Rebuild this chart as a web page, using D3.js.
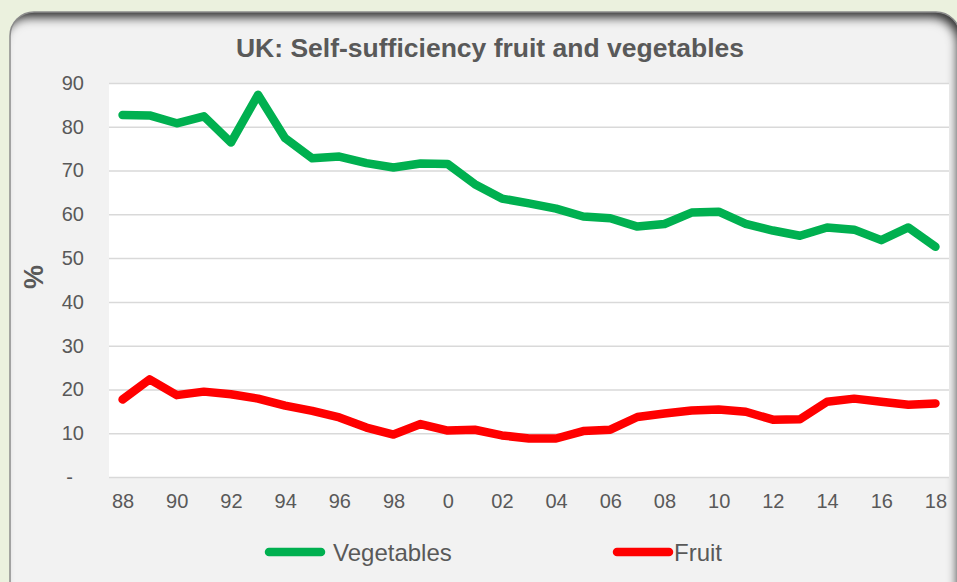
<!DOCTYPE html>
<html>
<head>
<meta charset="utf-8">
<script src="https://cdn.jsdelivr.net/npm/d3@7"></script>
<style>
  body { margin: 0; background: #ebf1de; }
  svg { display: block; font-family: "Liberation Sans", Arial, sans-serif; }
</style>
</head>
<body>
<div id="main"></div>
<script>
// years on the x axis (1988 - 2018)
const years = d3.range(1988, 2019);
// self-sufficiency values, %
const vegetables = [82.7, 82.6, 80.8, 82.4, 76.4, 87.3, 77.4, 72.8, 73.2, 71.7, 70.7, 71.6, 71.5,
  66.9, 63.6, 62.5, 61.3, 59.5, 59.1, 57.2, 57.8, 60.4, 60.6, 57.8, 56.3, 55.1, 57.0, 56.5, 54.1, 57.0, 52.6];
const fruit = [17.7, 22.3, 18.7, 19.5, 18.9, 17.9, 16.3, 15.1, 13.6, 11.3, 9.7, 12.1, 10.6,
  10.8, 9.5, 8.8, 8.8, 10.5, 10.8, 13.7, 14.5, 15.2, 15.4, 14.9, 13.1, 13.2, 17.2, 17.9, 17.2, 16.5, 16.8];
const yTicks = [0, 10, 20, 30, 40, 50, 60, 70, 80, 90];
const seriesNames = ['Vegetables', 'Fruit'];
const seriesColors = ['#00b050', '#ff0000'];

const width = 957;
const height = 582;
const plot = { left: 109, right: 949, top: 83, bottom: 477 };
const textColor = '#595959';

const svg = d3.select('#main')
  .append('svg')
  .attr('width', width)
  .attr('height', height);

// inner shadow for the rounded panel (top and right edges)
const defs = svg.append('defs');
const filt = defs.append('filter')
  .attr('id', 'inner')
  .attr('x', '-5%').attr('y', '-5%')
  .attr('width', '110%').attr('height', '110%');
filt.append('feFlood').attr('flood-color', '#000').attr('flood-opacity', 0.95).attr('result', 'flood');
filt.append('feComposite').attr('in', 'flood').attr('in2', 'SourceAlpha').attr('operator', 'out').attr('result', 'outside');
filt.append('feOffset').attr('in', 'outside').attr('dx', -5).attr('dy', 8).attr('result', 'off');
filt.append('feGaussianBlur').attr('in', 'off').attr('stdDeviation', 4).attr('result', 'blur');
filt.append('feComposite').attr('in', 'blur').attr('in2', 'SourceAlpha').attr('operator', 'in').attr('result', 'shadow');
const merge = filt.append('feMerge');
merge.append('feMergeNode').attr('in', 'SourceGraphic');
merge.append('feMergeNode').attr('in', 'shadow');

// panel
const panel = { x: 10, y: 12, w: 950, h: 600, r: 24 };
svg.append('rect')
  .attr('x', panel.x)
  .attr('y', panel.y)
  .attr('width', panel.w)
  .attr('height', panel.h)
  .attr('rx', panel.r)
  .attr('fill', '#f2f2f2')
  .attr('filter', 'url(#inner)');
svg.append('rect')
  .attr('x', panel.x)
  .attr('y', panel.y)
  .attr('width', panel.w)
  .attr('height', panel.h)
  .attr('rx', panel.r)
  .attr('fill', 'none')
  .attr('stroke', '#8c8c8c')
  .attr('stroke-width', 1.5);

// plot area
svg.append('rect')
  .attr('x', plot.left)
  .attr('y', plot.top)
  .attr('width', plot.right - plot.left)
  .attr('height', plot.bottom - plot.top)
  .attr('fill', '#ffffff');

// scales
const xScale = d3.scalePoint()
  .domain(years)
  .range([plot.left, plot.right])
  .padding(0.5);
const yScale = d3.scaleLinear()
  .domain([0, 90])
  .range([plot.bottom, plot.top]);

// y axis with gridlines
const yAxis = d3.axisLeft(yScale)
  .tickValues(yTicks)
  .tickSize(-(plot.right - plot.left))
  .tickPadding(25)
  .tickFormat(d => (d === 0 ? '-' : d));
const yG = svg.append('g')
  .attr('transform', `translate(${plot.left},0)`)
  .call(yAxis);
yG.select('.domain').remove();
yG.selectAll('.tick line').attr('stroke', '#d9d9d9').attr('stroke-width', 1.5);
yG.selectAll('.tick text')
  .attr('fill', textColor)
  .style('font-size', '20px')
  .attr('font-family', '"Liberation Sans", Arial, sans-serif')
  .attr('dx', d => (d === 0 ? -11 : 0));

// x axis labels, every second year
const xAxis = d3.axisBottom(xScale)
  .tickValues(years.filter(y => y % 2 === 0))
  .tickSize(0)
  .tickPadding(17)
  .tickFormat(d => (d === 2000 ? '0' : String(d).slice(2)));
const xG = svg.append('g')
  .attr('transform', `translate(0,${plot.bottom})`)
  .call(xAxis);
xG.select('.domain').remove();
xG.selectAll('.tick text')
  .attr('fill', textColor)
  .style('font-size', '20px')
  .attr('font-family', '"Liberation Sans", Arial, sans-serif');

// lines
const line = d3.line()
  .x((d, i) => xScale(years[i]))
  .y(d => yScale(d));
[vegetables, fruit].forEach((series, i) => {
  svg.append('path')
    .datum(series)
    .attr('d', line)
    .attr('fill', 'none')
    .attr('stroke', seriesColors[i])
    .attr('stroke-width', 8.5)
    .attr('stroke-linejoin', 'round')
    .attr('stroke-linecap', 'round');
});

// title
svg.append('text')
  .attr('x', 490)
  .attr('y', 57)
  .attr('text-anchor', 'middle')
  .attr('fill', textColor)
  .style('font-size', '26.5px')
  .style('font-weight', 'bold')
  .text('UK: Self-sufficiency fruit and vegetables');

// y axis label
svg.append('text')
  .attr('transform', 'rotate(-90)')
  .attr('x', -277)
  .attr('y', 43)
  .attr('text-anchor', 'middle')
  .attr('fill', textColor)
  .style('font-size', '27px')
  .style('font-weight', 'bold')
  .text('%');

// legend
const legendX = [265, 613];
seriesNames.forEach((name, i) => {
  const g = svg.append('g').attr('transform', `translate(${legendX[i]},552)`);
  g.append('line')
    .attr('x1', 4).attr('x2', 56)
    .attr('stroke', seriesColors[i])
    .attr('stroke-width', 8.5)
    .attr('stroke-linecap', 'round');
  g.append('text')
    .attr('x', i === 0 ? 68 : 61)
    .attr('y', 8.5)
    .attr('fill', textColor)
    .style('font-size', '24px')
    .text(name);
});
</script>
</body>
</html>
